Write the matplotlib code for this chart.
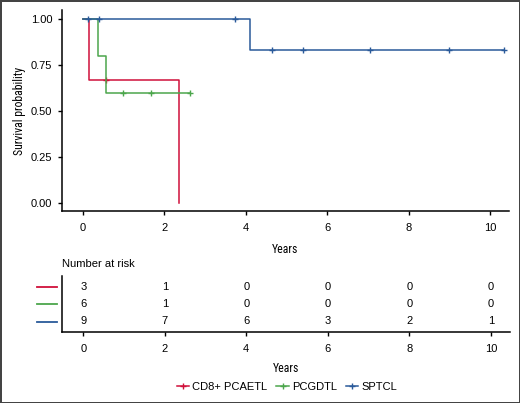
import matplotlib
matplotlib.use('Agg')
import matplotlib.pyplot as plt
import matplotlib.transforms as mtransforms
from matplotlib.lines import Line2D
from matplotlib import font_manager
import numpy as np

plt.rcParams['font.family'] = ['Liberation Sans', 'DejaVu Sans']

groups = ['CD8+ PCAETL', 'PCGDTL', 'SPTCL']
colors = ['#d0103a', '#4ca64c', '#2a5a9a']

# step points of the Kaplan-Meier curves (time in years, survival)
red_t = [0, 0.15, 2.35]
red_s = [1.0, 0.667, 0.0]
green_t = [0, 0.37, 0.57, 2.63]
green_s = [1.0, 0.80, 0.60, 0.60]
blue_t = [0, 4.10, 10.35]
blue_s = [1.0, 0.833, 0.833]

# censoring times
red_cens = [0.55]
green_cens = [0.99, 1.67, 2.63]
blue_cens = [0.13, 0.38, 3.73, 4.65, 5.41, 7.06, 9.0, 10.35]

risk_times = [0, 2, 4, 6, 8, 10]
risk_red = [3, 1, 0, 0, 0, 0]
risk_green = [6, 1, 0, 0, 0, 0]
risk_blue = [9, 7, 6, 3, 2, 1]

curves = [(red_t, red_s, red_cens), (green_t, green_s, green_cens), (blue_t, blue_s, blue_cens)]
risks = [risk_red, risk_green, risk_blue]

# narrow font for axis titles, if one is around
names = {f.name for f in font_manager.fontManager.ttflist}
narrow = [n for n in ['Liberation Sans Narrow', 'Roboto Condensed', 'Open Sans Condensed',
                      'DejaVu Sans Condensed'] if n in names]
title_font = dict(family=(narrow[0] if narrow else 'Liberation Sans'),
                  stretch='condensed')

W, H = 520, 403
fig = plt.figure(figsize=(W / 100, H / 100), dpi=100, edgecolor='#444444', linewidth=2)


def box(l, t, r, b):
    return [l / W, 1 - b / H, (r - l) / W, (b - t) / H]


xlim = (-0.52, 10.47)
fs = 8

ax = fig.add_axes(box(62, 10, 509, 211))
for (t, s, c), col in zip(curves, colors):
    ax.step(t, s, where='post', color=col, lw=1.1)
    idx = np.searchsorted(t, c, side='right') - 1
    ax.plot(c, np.array(s)[idx], ls='none', marker='+', ms=5, mew=1, color=col)
ax.set_xlim(*xlim)
ax.set_ylim(-0.043, 1.05)
ax.set_yticks([0, 0.25, 0.5, 0.75, 1.0])
ax.set_yticklabels(['0.00', '0.25', '0.50', '0.75', '1.00'])
ax.set_xticks(risk_times)
for sp in ['top', 'right']:
    ax.spines[sp].set_visible(False)
for sp in ['left', 'bottom']:
    ax.spines[sp].set_linewidth(1.1)
ax.tick_params(labelsize=fs, length=3, width=1, colors='black', pad=4)
ax.tick_params(axis='x', pad=5.5)
ax.set_xlabel('Years', fontsize=fs + 0.5, labelpad=7, **title_font)
ax.set_ylabel('Survival probability', fontsize=fs + 0.5, labelpad=3.5, **title_font)

# number at risk table
tab = fig.add_axes(box(62, 276, 510, 332))
tab.set_xlim(*xlim)
tab.set_ylim(0.4, 3.6)
rows = [3, 2, 1]
trans = mtransforms.blended_transform_factory(tab.transAxes, tab.transData)
for r, vals, col in zip(rows, risks, colors):
    for tx, v in zip(risk_times, vals):
        tab.text(tx, r, str(v), ha='center', va='center', fontsize=fs)
    tab.add_line(Line2D([-0.056, -0.011], [r, r], transform=trans, color=col, lw=1.3, clip_on=False))
tab.set_yticks([])
tab.set_xticks(risk_times)
for sp in ['top', 'right']:
    tab.spines[sp].set_visible(False)
for sp in ['left', 'bottom']:
    tab.spines[sp].set_linewidth(1.1)
tab.tick_params(labelsize=fs, length=3, width=1, pad=5.5)
tab.set_xlabel('Years', fontsize=fs + 0.5, labelpad=6, **title_font)
tab.text(0, 1.12, 'Number at risk', transform=tab.transAxes, fontsize=fs, va='bottom', ha='left')

handles = [Line2D([], [], color=c, marker='+', ms=5, mew=1, lw=1.1) for c in colors]
fig.legend(handles, groups, loc='center', bbox_to_anchor=(287 / W, 1 - 387 / H), ncol=3, frameon=False,
           fontsize=fs, handlelength=1.1, handletextpad=0.3, columnspacing=0.8)

fig.savefig('out.png', dpi=100, edgecolor=fig.get_edgecolor())
